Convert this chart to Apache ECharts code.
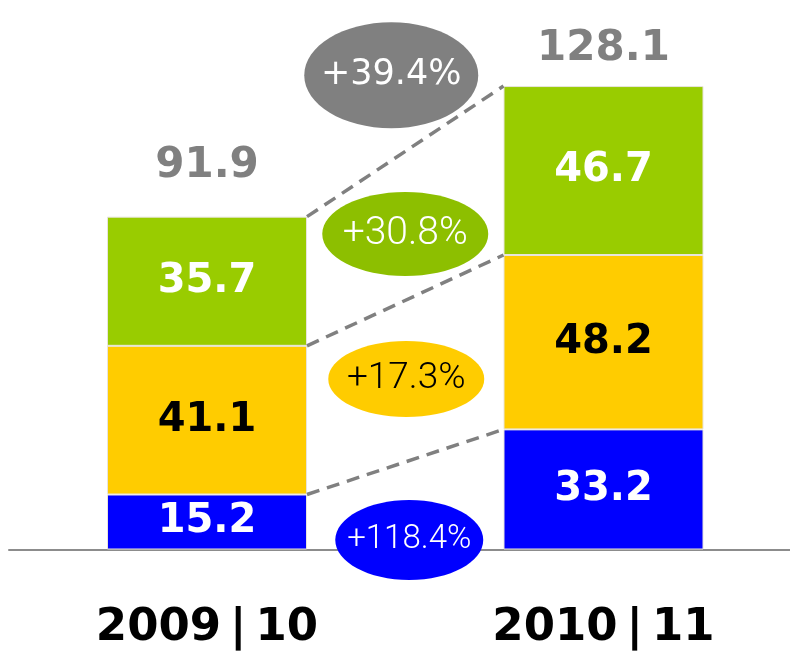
<!DOCTYPE html>
<html>
<head>
<meta charset="utf-8">
<script src="https://cdn.jsdelivr.net/npm/echarts@6/dist/echarts.min.js"></script>
<style>
html,body{margin:0;padding:0;background:#fff;}
#chart{width:790px;height:656px;}
</style>
</head>
<body>
<div id="chart"></div>
<script>
// ---- data ----
const categories = ['2009|10', '2010|11'];
const blueValues = [15.2, 33.2];
const yellowValues = [41.1, 48.2];
const greenValues = [35.7, 46.7];
const totals = [91.9, 128.1];
// growth labels: blue, yellow, green, total
const growthLabels = ['+118.4%', '+17.3%', '+30.8%', '+39.4%'];

// ---- layout / style (not data) ----
const BAR_W = 200;
const FONT_BOLD = '"DejaVu Sans", Verdana, sans-serif';
const FONT_LIGHT = 'Roboto, "Liberation Sans", Arial, sans-serif';
const totalOffsets = [-51, -37];
const bubbleLayout = [
  { anchor: 2.6,   dx: 4,   rx: 74, ry: 40, fill: '#0000ff', color: '#ffffff', size: 33, weight: 300, font: FONT_LIGHT },
  { anchor: 47.1,  dx: 1,   rx: 78, ry: 38, fill: '#ffcc00', color: '#000000', size: 37, weight: 300, font: FONT_LIGHT },
  { anchor: 87.2,  dx: 0,   rx: 83, ry: 42, fill: '#8dbf00', color: '#ffffff', size: 39, weight: 300, font: FONT_LIGHT },
  { anchor: 131.1, dx: -14, rx: 87, ry: 53, fill: '#808080', color: '#ffffff', size: 35, weight: 'normal', font: FONT_BOLD }
];

// cumulative tops for connectors
const stacks = [blueValues, yellowValues, greenValues];
const connectorData = [];
{
  let c0 = 0, c1 = 0;
  stacks.forEach(s => { c0 += s[0]; c1 += s[1]; connectorData.push([c0, c1]); });
}

const chart = echarts.init(document.getElementById('chart'), null, { renderer: 'canvas' });

function segLabel(color) {
  return {
    show: true, position: 'inside', color: color,
    fontFamily: FONT_BOLD, fontWeight: 'bold', fontSize: 40,
    formatter: p => p.value.toFixed(1)
  };
}
const itemBorder = { borderColor: '#e8e4dc', borderWidth: 1 };

const option = {
  animation: false,
  grid: [
    { left: 207, width: 396.5, top: 43, bottom: 106.5 },
    { left: 9, right: 0, top: 43, bottom: 106.5 }
  ],
  xAxis: [
    {
      type: 'category', data: categories, gridIndex: 0, boundaryGap: false,
      axisLine: { show: false }, axisTick: { show: false },
      axisLabel: {
        color: '#000', fontFamily: FONT_BOLD, fontWeight: 'bold', fontSize: 45,
        margin: 56, formatter: v => v.replace('|', '\u2009|\u2009')
      }
    },
    {
      type: 'value', gridIndex: 1, min: 0, max: 1,
      axisLine: { show: true, onZero: false, lineStyle: { color: '#8c8c8c', width: 2 } },
      axisTick: { show: false }, axisLabel: { show: false }, splitLine: { show: false }
    }
  ],
  yAxis: [
    { type: 'value', gridIndex: 0, min: 0, max: 140, show: false, splitLine: { show: false } },
    { type: 'value', gridIndex: 1, min: 0, max: 1, show: false, splitLine: { show: false } }
  ],
  series: [
    {
      type: 'bar', stack: 's', barWidth: BAR_W, data: blueValues, clip: false,
      itemStyle: Object.assign({ color: '#0000ff' }, itemBorder), label: segLabel('#ffffff')
    },
    {
      type: 'bar', stack: 's', barWidth: BAR_W, data: yellowValues, clip: false,
      itemStyle: Object.assign({ color: '#ffcc00' }, itemBorder), label: segLabel('#000000')
    },
    {
      type: 'bar', stack: 's', barWidth: BAR_W, data: greenValues, clip: false,
      itemStyle: Object.assign({ color: '#99cc00' }, itemBorder), label: segLabel('#ffffff')
    },
    {
      // dashed connectors between bar tops
      type: 'custom', z: 3, data: connectorData, clip: false,
      renderItem: function (params, api) {
        const p0 = api.coord([0, api.value(0)]);
        const p1 = api.coord([1, api.value(1)]);
        return {
          type: 'line',
          shape: { x1: p0[0] + BAR_W / 2, y1: p0[1], x2: p1[0] - BAR_W / 2, y2: p1[1] },
          style: { stroke: '#808080', lineWidth: 3.5, lineDash: [13, 8] }
        };
      }
    },
    {
      // totals above bars
      type: 'custom', z: 4, clip: false,
      data: totals.map((t, i) => [i, t]),
      renderItem: function (params, api) {
        const p = api.coord([api.value(0), api.value(1)]);
        return {
          type: 'text',
          style: {
            text: totals[params.dataIndex].toFixed(1),
            x: p[0], y: p[1] + totalOffsets[params.dataIndex],
            align: 'center', verticalAlign: 'middle',
            fill: '#808080', fontFamily: FONT_BOLD, fontWeight: 'bold', fontSize: 42
          }
        };
      }
    },
    {
      // growth bubbles
      type: 'custom', z: 5, clip: false,
      data: growthLabels.map((t, i) => [0, bubbleLayout[i].anchor]),
      renderItem: function (params, api) {
        const L = bubbleLayout[params.dataIndex];
        const a = api.coord([0, api.value(1)]);
        const b = api.coord([1, api.value(1)]);
        const cx = (a[0] + b[0]) / 2 + L.dx;
        const cy = a[1];
        return {
          type: 'group',
          children: [
            { type: 'ellipse', shape: { cx: cx, cy: cy, rx: L.rx, ry: L.ry }, style: { fill: L.fill } },
            {
              type: 'text',
              style: {
                text: growthLabels[params.dataIndex], x: cx, y: cy,
                align: 'center', verticalAlign: 'middle',
                fill: L.color, fontFamily: L.font, fontWeight: L.weight, fontSize: L.size
              }
            }
          ]
        };
      }
    }
  ]
};
chart.setOption(option);
</script>
</body>
</html>
